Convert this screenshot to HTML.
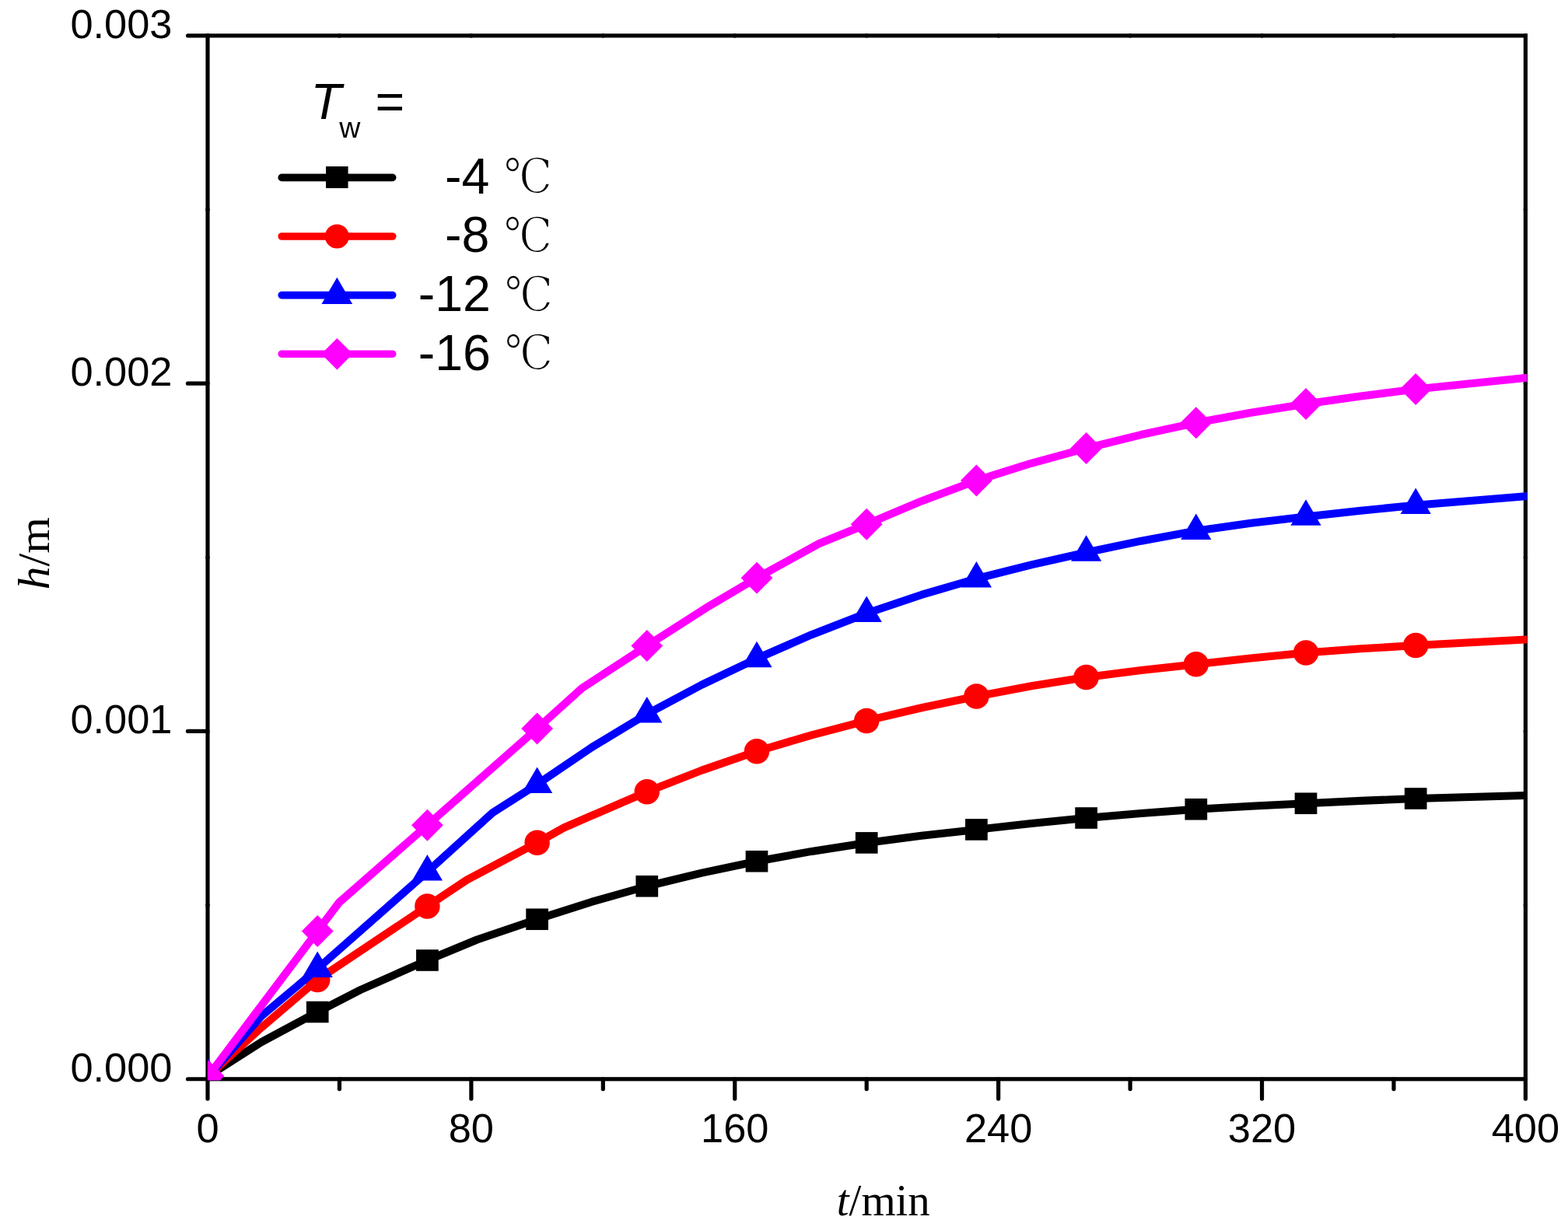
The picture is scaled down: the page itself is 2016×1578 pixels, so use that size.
<!DOCTYPE html>
<html lang="en"><head><meta charset="utf-8"><title>h/m vs t/min</title>
<style>
html,body{margin:0;padding:0;background:#fff;}
body{width:2016px;height:1578px;overflow:hidden;}
svg{display:block;}
.tk{font-family:"Liberation Sans",sans-serif;font-size:52.4px;fill:#000;}
.lg{font-family:"Liberation Sans",sans-serif;font-size:64.5px;fill:#000;}
.ax{font-family:"Liberation Serif",serif;font-size:58px;fill:#000;}
.dc{font-family:"DejaVu Serif","Noto Serif CJK SC","Liberation Serif",serif;fill:#000;}
</style></head><body>
<svg width="2016" height="1578" viewBox="0 0 2016 1578">
<rect x="0" y="0" width="2016" height="1578" fill="#ffffff"/>
<defs><clipPath id="pc"><rect x="266.9" y="40" width="1696.4" height="1349.3"/></clipPath></defs>

<g stroke="#000" stroke-width="5.2" fill="none" stroke-linecap="round">
<rect x="267.0" y="45.85" width="1694.4" height="1341.9" stroke-linejoin="miter"/>
<line x1="267.0" y1="1387.75" x2="241.5" y2="1387.75"/>
<line x1="267.0" y1="940.45" x2="241.5" y2="940.45"/>
<line x1="267.0" y1="493.15" x2="241.5" y2="493.15"/>
<line x1="267.0" y1="45.85" x2="241.5" y2="45.85"/>
<line x1="267.00" y1="1387.75" x2="267.00" y2="1413.1"/>
<line x1="605.88" y1="1387.75" x2="605.88" y2="1413.1"/>
<line x1="944.76" y1="1387.75" x2="944.76" y2="1413.1"/>
<line x1="1283.64" y1="1387.75" x2="1283.64" y2="1413.1"/>
<line x1="1622.52" y1="1387.75" x2="1622.52" y2="1413.1"/>
<line x1="1961.40" y1="1387.75" x2="1961.40" y2="1413.1"/>
<line x1="436.44" y1="1387.75" x2="436.44" y2="1400.6"/>
<line x1="775.32" y1="1387.75" x2="775.32" y2="1400.6"/>
<line x1="1114.20" y1="1387.75" x2="1114.20" y2="1400.6"/>
<line x1="1453.08" y1="1387.75" x2="1453.08" y2="1400.6"/>
<line x1="1791.96" y1="1387.75" x2="1791.96" y2="1400.6"/>
<line x1="267.00" y1="45.7" x2="267.00" y2="46.0"/>
<line x1="436.44" y1="45.7" x2="436.44" y2="46.0"/>
<line x1="605.88" y1="45.7" x2="605.88" y2="46.0"/>
<line x1="775.32" y1="45.7" x2="775.32" y2="46.0"/>
<line x1="944.76" y1="45.7" x2="944.76" y2="46.0"/>
<line x1="1114.20" y1="45.7" x2="1114.20" y2="46.0"/>
<line x1="1283.64" y1="45.7" x2="1283.64" y2="46.0"/>
<line x1="1453.08" y1="45.7" x2="1453.08" y2="46.0"/>
<line x1="1622.52" y1="45.7" x2="1622.52" y2="46.0"/>
<line x1="1791.96" y1="45.7" x2="1791.96" y2="46.0"/>
<line x1="1961.40" y1="45.7" x2="1961.40" y2="46.0"/>
<line x1="1961.25" y1="1387.75" x2="1961.5500000000002" y2="1387.75"/>
<line x1="1961.25" y1="1164.10" x2="1961.5500000000002" y2="1164.10"/>
<line x1="1961.25" y1="940.45" x2="1961.5500000000002" y2="940.45"/>
<line x1="1961.25" y1="716.80" x2="1961.5500000000002" y2="716.80"/>
<line x1="1961.25" y1="493.15" x2="1961.5500000000002" y2="493.15"/>
<line x1="1961.25" y1="269.50" x2="1961.5500000000002" y2="269.50"/>
<line x1="1961.25" y1="45.85" x2="1961.5500000000002" y2="45.85"/>
<line x1="266.85" y1="1164.10" x2="267.15" y2="1164.10"/>
<line x1="266.85" y1="716.80" x2="267.15" y2="716.80"/>
<line x1="266.85" y1="269.50" x2="267.15" y2="269.50"/>
</g>
<text class="tk" x="221.5" y="1390.75" text-anchor="end">0.000</text>
<text class="tk" x="221.5" y="943.45" text-anchor="end">0.001</text>
<text class="tk" x="221.5" y="496.15" text-anchor="end">0.002</text>
<text class="tk" x="221.5" y="48.85" text-anchor="end">0.003</text>
<text class="tk" x="267.00" y="1468.7" text-anchor="middle">0</text>
<text class="tk" x="605.88" y="1468.7" text-anchor="middle">80</text>
<text class="tk" x="944.76" y="1468.7" text-anchor="middle">160</text>
<text class="tk" x="1283.64" y="1468.7" text-anchor="middle">240</text>
<text class="tk" x="1622.52" y="1468.7" text-anchor="middle">320</text>
<text class="tk" x="1961.40" y="1468.7" text-anchor="middle">400</text>
<text class="ax" transform="translate(1075.8,1563.0) scale(0.98,1)"><tspan font-style="italic">t</tspan>/min</text>
<text class="ax" transform="translate(62.7,758.4) rotate(-90) scale(1.034,1)"><tspan font-style="italic">h</tspan>/m</text>
<g clip-path="url(#pc)">
<polyline points="268.00,1383.80 336.00,1340.30 408.20,1301.50 463.50,1273.00 549.40,1235.00 613.30,1208.50 690.60,1182.25 761.20,1159.70 831.80,1139.75 902.40,1122.58 973.00,1107.75 1043.60,1094.89 1114.20,1083.90 1184.80,1074.84 1255.40,1066.90 1326.00,1059.09 1396.60,1052.00 1467.20,1045.91 1537.80,1040.75 1608.40,1036.69 1679.00,1033.25 1749.60,1029.91 1820.20,1027.00 1961.40,1023.00 1967.40,1022.92" fill="none" stroke="#000000" stroke-width="10.1" stroke-linejoin="round" stroke-linecap="butt"/>
<rect x="253.65" y="1370.00" width="28.7" height="27.6" fill="#000000"/>
<rect x="393.85" y="1287.70" width="28.7" height="27.6" fill="#000000"/>
<rect x="535.05" y="1221.20" width="28.7" height="27.6" fill="#000000"/>
<rect x="676.25" y="1168.45" width="28.7" height="27.6" fill="#000000"/>
<rect x="817.45" y="1125.95" width="28.7" height="27.6" fill="#000000"/>
<rect x="958.65" y="1093.95" width="28.7" height="27.6" fill="#000000"/>
<rect x="1099.85" y="1070.10" width="28.7" height="27.6" fill="#000000"/>
<rect x="1241.05" y="1053.10" width="28.7" height="27.6" fill="#000000"/>
<rect x="1382.25" y="1038.20" width="28.7" height="27.6" fill="#000000"/>
<rect x="1523.45" y="1026.95" width="28.7" height="27.6" fill="#000000"/>
<rect x="1664.65" y="1019.45" width="28.7" height="27.6" fill="#000000"/>
<rect x="1805.85" y="1013.20" width="28.7" height="27.6" fill="#000000"/>
<polyline points="268.00,1383.80 336.00,1321.60 408.20,1260.00 549.40,1165.50 600.00,1131.70 690.60,1083.75 725.00,1064.50 831.80,1018.25 902.40,990.62 973.00,966.25 1043.60,945.29 1114.20,926.90 1184.80,910.27 1255.40,895.50 1326.00,882.33 1396.60,871.00 1467.20,862.02 1537.80,854.25 1608.40,846.42 1679.00,839.50 1749.60,834.30 1820.20,830.00 1961.40,822.50 1967.40,822.34" fill="none" stroke="#ff0000" stroke-width="10.1" stroke-linejoin="round" stroke-linecap="butt"/>
<circle cx="268.00" cy="1383.80" r="16.25" fill="#ff0000"/>
<circle cx="408.20" cy="1260.00" r="16.25" fill="#ff0000"/>
<circle cx="549.40" cy="1165.50" r="16.25" fill="#ff0000"/>
<circle cx="690.60" cy="1083.75" r="16.25" fill="#ff0000"/>
<circle cx="831.80" cy="1018.25" r="16.25" fill="#ff0000"/>
<circle cx="973.00" cy="966.25" r="16.25" fill="#ff0000"/>
<circle cx="1114.20" cy="926.90" r="16.25" fill="#ff0000"/>
<circle cx="1255.40" cy="895.50" r="16.25" fill="#ff0000"/>
<circle cx="1396.60" cy="871.00" r="16.25" fill="#ff0000"/>
<circle cx="1537.80" cy="854.25" r="16.25" fill="#ff0000"/>
<circle cx="1679.00" cy="839.50" r="16.25" fill="#ff0000"/>
<circle cx="1820.20" cy="830.00" r="16.25" fill="#ff0000"/>
<polyline points="268.00,1383.80 336.00,1306.90 380.00,1270.00 408.20,1245.75 549.40,1121.25 633.30,1045.30 690.60,1008.75 761.20,960.92 831.80,918.25 902.40,880.61 973.00,847.00 1043.60,816.20 1114.20,788.75 1184.80,764.97 1255.40,744.25 1326.00,726.33 1396.60,710.50 1467.20,695.66 1537.80,682.75 1608.40,672.81 1679.00,664.50 1749.60,656.70 1820.20,649.75 1961.40,638.25 1967.40,638.01" fill="none" stroke="#0000ff" stroke-width="10.1" stroke-linejoin="round" stroke-linecap="butt"/>
<polygon points="268.00,1361.53 287.60,1394.93 248.40,1394.93" fill="#0000ff"/>
<polygon points="408.20,1223.48 427.80,1256.88 388.60,1256.88" fill="#0000ff"/>
<polygon points="549.40,1098.98 569.00,1132.38 529.80,1132.38" fill="#0000ff"/>
<polygon points="690.60,986.48 710.20,1019.88 671.00,1019.88" fill="#0000ff"/>
<polygon points="831.80,895.98 851.40,929.38 812.20,929.38" fill="#0000ff"/>
<polygon points="973.00,824.73 992.60,858.13 953.40,858.13" fill="#0000ff"/>
<polygon points="1114.20,766.48 1133.80,799.88 1094.60,799.88" fill="#0000ff"/>
<polygon points="1255.40,721.98 1275.00,755.38 1235.80,755.38" fill="#0000ff"/>
<polygon points="1396.60,688.23 1416.20,721.63 1377.00,721.63" fill="#0000ff"/>
<polygon points="1537.80,660.48 1557.40,693.88 1518.20,693.88" fill="#0000ff"/>
<polygon points="1679.00,642.23 1698.60,675.63 1659.40,675.63" fill="#0000ff"/>
<polygon points="1820.20,627.48 1839.80,660.88 1800.60,660.88" fill="#0000ff"/>
<polyline points="268.00,1383.80 408.20,1197.50 436.00,1160.60 549.40,1061.25 690.60,937.00 748.30,885.00 831.80,830.50 908.00,781.70 973.00,743.25 1053.30,699.00 1114.20,674.25 1184.80,644.41 1255.40,618.00 1326.00,595.78 1396.60,576.50 1467.20,559.05 1537.80,543.75 1608.40,530.77 1679.00,519.50 1749.60,509.39 1820.20,500.50 1961.40,486.00 1967.40,485.69" fill="none" stroke="#ff00ff" stroke-width="10.1" stroke-linejoin="round" stroke-linecap="butt"/>
<polygon points="268.00,1363.40 288.40,1383.80 268.00,1404.20 247.60,1383.80" fill="#ff00ff"/>
<polygon points="408.20,1177.10 428.60,1197.50 408.20,1217.90 387.80,1197.50" fill="#ff00ff"/>
<polygon points="549.40,1040.85 569.80,1061.25 549.40,1081.65 529.00,1061.25" fill="#ff00ff"/>
<polygon points="690.60,916.60 711.00,937.00 690.60,957.40 670.20,937.00" fill="#ff00ff"/>
<polygon points="831.80,810.10 852.20,830.50 831.80,850.90 811.40,830.50" fill="#ff00ff"/>
<polygon points="973.00,722.85 993.40,743.25 973.00,763.65 952.60,743.25" fill="#ff00ff"/>
<polygon points="1114.20,653.85 1134.60,674.25 1114.20,694.65 1093.80,674.25" fill="#ff00ff"/>
<polygon points="1255.40,597.60 1275.80,618.00 1255.40,638.40 1235.00,618.00" fill="#ff00ff"/>
<polygon points="1396.60,556.10 1417.00,576.50 1396.60,596.90 1376.20,576.50" fill="#ff00ff"/>
<polygon points="1537.80,523.35 1558.20,543.75 1537.80,564.15 1517.40,543.75" fill="#ff00ff"/>
<polygon points="1679.00,499.10 1699.40,519.50 1679.00,539.90 1658.60,519.50" fill="#ff00ff"/>
<polygon points="1820.20,480.10 1840.60,500.50 1820.20,520.90 1799.80,500.50" fill="#ff00ff"/>
</g>
<text class="lg" x="399.6" y="152.75" font-style="italic">T</text>
<text class="lg" x="436.3" y="176.9" style="font-size:37.5px">w</text>
<text class="lg" x="482.6" y="152.75">=</text>
<line x1="362.2" y1="228.4" x2="504.7" y2="228.4" stroke="#000000" stroke-width="9.6" stroke-linecap="round"/>
<rect x="419.05" y="214.00" width="28.5" height="28.0" fill="#000000"/>
<text class="lg" x="629.40" y="248.75" text-anchor="end">-4</text>
<text class="dc" transform="translate(647.70,248.30) scale(0.93,1.035)" font-size="60" stroke="#fff" stroke-width="1.6">℃</text>
<line x1="362.2" y1="304.0" x2="504.7" y2="304.0" stroke="#ff0000" stroke-width="9.6" stroke-linecap="round"/>
<circle cx="433.30" cy="304.00" r="15.5" fill="#ff0000"/>
<text class="lg" x="629.40" y="324.35" text-anchor="end">-8</text>
<text class="dc" transform="translate(647.70,323.90) scale(0.93,1.035)" font-size="60" stroke="#fff" stroke-width="1.6">℃</text>
<line x1="362.2" y1="379.6" x2="504.7" y2="379.6" stroke="#0000ff" stroke-width="9.6" stroke-linecap="round"/>
<polygon points="433.30,356.87 453.18,390.97 413.43,390.97" fill="#0000ff"/>
<text class="lg" x="631.00" y="399.95" text-anchor="end">-12</text>
<text class="dc" transform="translate(648.70,399.50) scale(0.93,1.035)" font-size="60" stroke="#fff" stroke-width="1.6">℃</text>
<line x1="362.2" y1="455.2" x2="504.7" y2="455.2" stroke="#ff00ff" stroke-width="9.6" stroke-linecap="round"/>
<polygon points="433.30,434.95 453.55,455.20 433.30,475.45 413.05,455.20" fill="#ff00ff"/>
<text class="lg" x="631.00" y="475.55" text-anchor="end">-16</text>
<text class="dc" transform="translate(648.70,475.10) scale(0.93,1.035)" font-size="60" stroke="#fff" stroke-width="1.6">℃</text>
</svg>
</body></html>
